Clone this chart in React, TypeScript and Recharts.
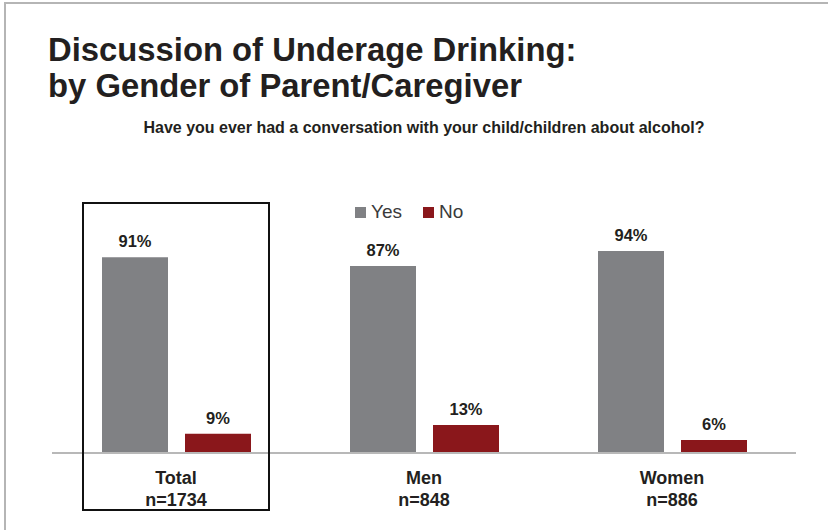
import React from "react";
import { Bar, BarChart, LabelList, Legend, XAxis, YAxis } from "recharts";

const groups = ["Total", "Men", "Women"];
const sampleSizes = ["n=1734", "n=848", "n=886"];
const yesValues = [91, 87, 94];
const noValues = [9, 13, 6];

const W = 828;
const H = 530;
const M = { top: 238, right: 32, bottom: 0, left: 52 };
const AXIS_H = 77;

const GRAY = "#808184";
const RED = "#8a171b";
const FONT = "'Liberation Sans', Arial, Helvetica, sans-serif";

const data = groups.map((g, i) => ({
  group: g,
  n: sampleSizes[i],
  yes: yesValues[i],
  no: noValues[i],
}));

const GroupTick = (props: any) => {
  const { x, y, payload, index } = props;
  return (
    <g>
      <text
        x={x}
        y={y + 31}
        textAnchor="middle"
        fontFamily={FONT}
        fontWeight="bold"
        fontSize={18}
        fill="#231f20"
      >
        {payload.value}
      </text>
      <text
        x={x}
        y={y + 53}
        textAnchor="middle"
        fontFamily={FONT}
        fontWeight="bold"
        fontSize={18}
        fill="#231f20"
      >
        {data[index] ? data[index].n : ""}
      </text>
    </g>
  );
};

const LegendContent = () => {
  const items = [
    { label: "Yes", color: GRAY },
    { label: "No", color: RED },
  ];
  return (
    <div style={{ display: "flex", alignItems: "center", fontFamily: FONT }}>
      {items.map((it) => (
        <div
          key={it.label}
          style={{ display: "flex", alignItems: "center", marginRight: 21 }}
        >
          <span
            style={{
              display: "inline-block",
              width: 11,
              height: 11,
              background: it.color,
              marginRight: 5,
            }}
          />
          <span style={{ fontSize: 19, color: "#3a3a3a", lineHeight: "20px" }}>
            {it.label}
          </span>
        </div>
      ))}
    </div>
  );
};

const labelStyle = {
  fontFamily: FONT,
  fontWeight: "bold",
  fontSize: 16.5,
  fill: "#231f20",
};

export default function App() {
  const plotW = W - M.left - M.right;
  const band = plotW / groups.length;
  const boxCx = M.left + band / 2;

  return (
    <div
      style={{
        position: "absolute",
        left: 0,
        top: 0,
        width: W,
        height: H,
        background: "#fff",
        overflow: "hidden",
      }}
    >
      <div
        style={{
          position: "absolute",
          left: 4,
          top: 2,
          width: W,
          height: H,
          borderLeft: "2px solid #b5b5b5",
          borderTop: "2px solid #b5b5b5",
        }}
      />
      <div
        style={{
          position: "absolute",
          left: 48,
          top: 32,
          fontFamily: FONT,
          fontWeight: "bold",
          fontSize: 32.8,
          lineHeight: "36px",
          color: "#231f20",
          whiteSpace: "nowrap",
        }}
      >
        Discussion of Underage Drinking:
        <br />
        by Gender of Parent/Caregiver
      </div>
      <div
        style={{
          position: "absolute",
          left: 10,
          top: 119,
          width: W,
          textAlign: "center",
          fontFamily: FONT,
          fontWeight: "bold",
          fontSize: 16,
          lineHeight: "18px",
          color: "#231f20",
          whiteSpace: "nowrap",
        }}
      >
        Have you ever had a conversation with your child/children about alcohol?
      </div>
      <div style={{ position: "absolute", left: 0, top: 0 }}>
        <BarChart
          width={W}
          height={H}
          data={data}
          margin={M}
          barSize={66}
          barGap={17}
        >
          <YAxis hide domain={[0, 100]} />
          <XAxis
            dataKey="group"
            height={AXIS_H}
            tickLine={false}
            tickSize={0}
            tickMargin={0}
            axisLine={{ stroke: "#b8b8b8", strokeWidth: 2 }}
            tick={<GroupTick />}
            interval={0}
          />
          <Legend
            verticalAlign="middle"
            align="center"
            layout="horizontal"
            content={<LegendContent />}
            wrapperStyle={{ left: 355, top: 202, width: "auto" }}
          />
          <Bar dataKey="yes" name="Yes" fill={GRAY} isAnimationActive={false}>
            <LabelList
              dataKey="yes"
              position="top"
              offset={10}
              formatter={(v: any) => `${v}%`}
              style={labelStyle}
            />
          </Bar>
          <Bar dataKey="no" name="No" fill={RED} isAnimationActive={false}>
            <LabelList
              dataKey="no"
              position="top"
              offset={10}
              formatter={(v: any) => `${v}%`}
              style={labelStyle}
            />
          </Bar>
        </BarChart>
      </div>
      <div
        style={{
          position: "absolute",
          left: boxCx - 94,
          top: 202,
          width: 188,
          height: 309,
          boxSizing: "border-box",
          border: "2px solid #111",
          pointerEvents: "none",
        }}
      />
    </div>
  );
}
